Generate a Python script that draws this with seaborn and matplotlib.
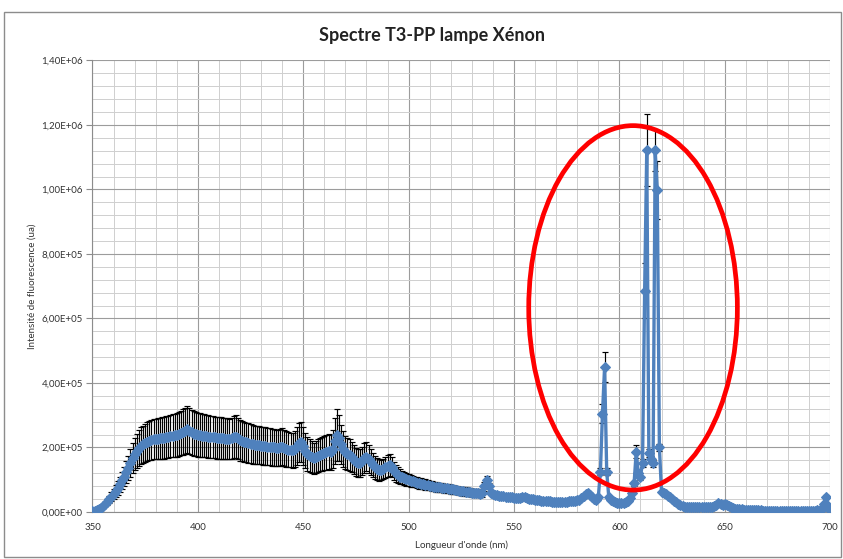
import numpy as np
import pandas as pd
import matplotlib
matplotlib.use("Agg")
import matplotlib.pyplot as plt
from matplotlib.patches import Ellipse, Rectangle
from matplotlib.ticker import FuncFormatter, MultipleLocator
import seaborn as sns

# Wavelength grid (nm), one reading per nanometre
wavelength_start = 350
wavelength_stop = 700

# Mean fluorescence intensity, in units of 1e5 (ua)
intensity_e5 = [
    0.02, 0.03, 0.05, 0.08, 0.12, 0.18, 0.25, 0.32, 0.40, 0.48,   # 350
    0.56, 0.65, 0.75, 0.86, 0.98, 1.10, 1.23, 1.37, 1.52, 1.68,   # 360
    1.80, 1.90, 1.98, 2.05, 2.10, 2.14, 2.18, 2.21, 2.23, 2.25,   # 370
    2.26, 2.27, 2.28, 2.29, 2.30, 2.32, 2.33, 2.35, 2.36, 2.38,   # 380
    2.40, 2.42, 2.45, 2.48, 2.52, 2.56, 2.52, 2.47, 2.43, 2.41,   # 390
    2.40, 2.39, 2.37, 2.36, 2.35, 2.34, 2.33, 2.32, 2.31, 2.30,   # 400
    2.30, 2.29, 2.28, 2.27, 2.27, 2.26, 2.28, 2.32, 2.34, 2.28,   # 410
    2.22, 2.20, 2.18, 2.16, 2.14, 2.12, 2.10, 2.09, 2.08, 2.07,   # 420
    2.06, 2.05, 2.04, 2.03, 2.02, 2.01, 2.00, 1.99, 1.98, 2.00,   # 430
    2.02, 1.98, 1.95, 1.93, 1.92, 1.91, 1.95, 2.05, 2.15, 2.18,   # 440
    2.05, 1.90, 1.80, 1.75, 1.70, 1.67, 1.70, 1.75, 1.78, 1.80,   # 450
    1.82, 1.85, 1.88, 1.85, 1.95, 2.20, 2.38, 2.30, 2.10, 1.95,   # 460
    1.85, 1.80, 1.77, 1.70, 1.62, 1.55, 1.52, 1.52, 1.58, 1.68,   # 470
    1.72, 1.65, 1.55, 1.45, 1.38, 1.33, 1.30, 1.30, 1.33, 1.38,   # 480
    1.44, 1.46, 1.38, 1.28, 1.20, 1.15, 1.10, 1.07, 1.04, 1.01,   # 490
    0.99, 0.97, 0.95, 0.93, 0.91, 0.89, 0.88, 0.86, 0.85, 0.83,   # 500
    0.82, 0.80, 0.79, 0.78, 0.77, 0.76, 0.75, 0.74, 0.73, 0.72,   # 510
    0.71, 0.70, 0.69, 0.68, 0.66, 0.65, 0.64, 0.63, 0.62, 0.61,   # 520
    0.60, 0.59, 0.58, 0.58, 0.57, 0.60, 0.80, 0.98, 0.80, 0.58,   # 530
    0.55, 0.53, 0.52, 0.51, 0.50, 0.49, 0.48, 0.47, 0.46, 0.45,   # 540
    0.44, 0.44, 0.43, 0.44, 0.45, 0.45, 0.43, 0.41, 0.40, 0.39,   # 550
    0.38, 0.37, 0.36, 0.35, 0.35, 0.34, 0.33, 0.33, 0.32, 0.32,   # 560
    0.31, 0.31, 0.31, 0.31, 0.32, 0.32, 0.33, 0.33, 0.34, 0.35,   # 570
    0.36, 0.38, 0.42, 0.50, 0.56, 0.58, 0.52, 0.45, 0.40, 0.38,   # 580
    0.45, 1.25, 3.05, 4.50, 1.25, 0.45, 0.38, 0.33, 0.30, 0.28,   # 590
    0.27, 0.27, 0.28, 0.30, 0.33, 0.43, 0.60, 0.89, 1.87, 1.20,   # 600
    1.10, 1.51, 6.86, 11.22, 1.82, 1.65, 1.51, 11.22, 9.98, 2.00, # 610
    0.63, 0.60, 0.55, 0.50, 0.45, 0.40, 0.35, 0.30, 0.26, 0.22,   # 620
    0.19, 0.17, 0.15, 0.15, 0.14, 0.14, 0.14, 0.14, 0.14, 0.14,   # 630
    0.14, 0.14, 0.14, 0.15, 0.16, 0.18, 0.22, 0.27, 0.25, 0.22,   # 640
    0.24, 0.22, 0.18, 0.15, 0.12, 0.10, 0.09, 0.08, 0.08, 0.07,   # 650
    0.07, 0.06, 0.06, 0.05, 0.05, 0.05, 0.05, 0.05, 0.04, 0.04,   # 660
    0.04, 0.04, 0.04, 0.04, 0.04, 0.04, 0.04, 0.04, 0.04, 0.04,   # 670
    0.04, 0.04, 0.04, 0.04, 0.04, 0.04, 0.04, 0.04, 0.04, 0.04,   # 680
    0.04, 0.04, 0.04, 0.04, 0.05, 0.06, 0.08, 0.25, 0.47, 0.18,   # 690
    0.05,                                                         # 700
]

# Standard deviation of the replicates, in units of 1e5 (ua)
stdev_e5 = [
    0.00, 0.01, 0.01, 0.02, 0.03, 0.05, 0.07, 0.09, 0.11, 0.13,   # 350
    0.15, 0.18, 0.21, 0.24, 0.27, 0.30, 0.34, 0.38, 0.42, 0.46,   # 360
    0.50, 0.53, 0.55, 0.57, 0.58, 0.59, 0.60, 0.61, 0.62, 0.62,   # 370
    0.63, 0.63, 0.64, 0.64, 0.65, 0.65, 0.66, 0.66, 0.67, 0.67,   # 380
    0.68, 0.68, 0.69, 0.70, 0.71, 0.72, 0.71, 0.70, 0.69, 0.68,   # 390
    0.68, 0.67, 0.67, 0.67, 0.66, 0.66, 0.66, 0.65, 0.65, 0.65,   # 400
    0.65, 0.64, 0.64, 0.64, 0.63, 0.63, 0.64, 0.65, 0.66, 0.64,   # 410
    0.63, 0.62, 0.62, 0.61, 0.61, 0.60, 0.60, 0.59, 0.59, 0.59,   # 420
    0.58, 0.58, 0.58, 0.57, 0.57, 0.57, 0.56, 0.56, 0.56, 0.57,   # 430
    0.57, 0.56, 0.55, 0.55, 0.54, 0.54, 0.56, 0.58, 0.60, 0.62,   # 440
    0.60, 0.54, 0.52, 0.50, 0.49, 0.48, 0.49, 0.50, 0.51, 0.52,   # 450
    0.53, 0.54, 0.55, 0.55, 0.60, 0.70, 0.80, 0.72, 0.60, 0.55,   # 460
    0.52, 0.50, 0.49, 0.47, 0.45, 0.43, 0.42, 0.42, 0.44, 0.46,   # 470
    0.46, 0.44, 0.41, 0.38, 0.36, 0.34, 0.33, 0.32, 0.32, 0.33,   # 480
    0.34, 0.34, 0.31, 0.28, 0.26, 0.24, 0.22, 0.21, 0.20, 0.19,   # 490
    0.19, 0.18, 0.18, 0.17, 0.17, 0.17, 0.16, 0.16, 0.16, 0.15,   # 500
    0.15, 0.15, 0.15, 0.15, 0.14, 0.14, 0.14, 0.14, 0.14, 0.14,   # 510
    0.14, 0.14, 0.13, 0.13, 0.13, 0.13, 0.13, 0.13, 0.13, 0.12,   # 520
    0.12, 0.12, 0.12, 0.12, 0.12, 0.12, 0.14, 0.15, 0.10, 0.06,   # 530
    0.03, 0.02, 0.02, 0.02, 0.02, 0.02, 0.02, 0.02, 0.02, 0.02,   # 540
    0.02, 0.02, 0.02, 0.02, 0.02, 0.02, 0.02, 0.02, 0.02, 0.02,   # 550
    0.02, 0.02, 0.02, 0.02, 0.02, 0.02, 0.02, 0.02, 0.02, 0.02,   # 560
    0.02, 0.02, 0.02, 0.02, 0.02, 0.02, 0.02, 0.02, 0.02, 0.02,   # 570
    0.02, 0.02, 0.02, 0.03, 0.04, 0.04, 0.03, 0.02, 0.02, 0.02,   # 580
    0.02, 0.10, 0.30, 0.47, 0.10, 0.03, 0.02, 0.02, 0.02, 0.02,   # 590
    0.02, 0.02, 0.02, 0.02, 0.02, 0.03, 0.05, 0.08, 0.20, 0.10,   # 600
    0.10, 0.12, 0.85, 1.12, 0.12, 0.10, 0.10, 0.65, 0.90, 0.10,   # 610
    0.04, 0.03, 0.03, 0.02, 0.02, 0.02, 0.02, 0.02, 0.02, 0.02,   # 620
    0.02, 0.02, 0.02, 0.02, 0.02, 0.02, 0.02, 0.02, 0.02, 0.02,   # 630
    0.02, 0.02, 0.02, 0.02, 0.02, 0.02, 0.02, 0.02, 0.02, 0.02,   # 640
    0.02, 0.02, 0.02, 0.02, 0.02, 0.02, 0.02, 0.02, 0.02, 0.02,   # 650
    0.02, 0.02, 0.02, 0.02, 0.02, 0.02, 0.02, 0.02, 0.02, 0.02,   # 660
    0.02, 0.02, 0.02, 0.02, 0.02, 0.02, 0.02, 0.02, 0.02, 0.02,   # 670
    0.02, 0.02, 0.02, 0.02, 0.02, 0.02, 0.02, 0.02, 0.02, 0.02,   # 680
    0.02, 0.02, 0.02, 0.02, 0.02, 0.02, 0.02, 0.04, 0.06, 0.03,   # 690
    0.02,                                                         # 700
]

x_ticks = [350, 400, 450, 500, 550, 600, 650, 700]
y_ticks = [0.0, 2.0e5, 4.0e5, 6.0e5, 8.0e5, 1.0e6, 1.2e6, 1.4e6]

title = "Spectre T3-PP lampe Xénon"
x_label = "Longueur d'onde (nm)"
y_label = "Intensité de fluorescence (ua)"

wavelength = np.arange(wavelength_start, wavelength_stop + 1)
assert len(intensity_e5) == len(wavelength) == len(stdev_e5)
df = pd.DataFrame({
    "wavelength": wavelength,
    "intensity": np.array(intensity_e5) * 1e5,
    "stdev": np.array(stdev_e5) * 1e5,
})

sns.set_style("white")
plt.rcParams["font.family"] = ["Lato", "DejaVu Sans"]

BLUE = "#4F81BD"

fig = plt.figure(figsize=(8.43, 5.59), dpi=100)
ax = fig.add_axes([0.1097, 0.0841, 0.8750, 0.8077])

# Chart-area frame
fig.patches.append(Rectangle((4 / 843, 2 / 559), 837 / 843, 545 / 559,
                             transform=fig.transFigure, fill=False,
                             edgecolor="#8c8c8c", linewidth=1.0))

# Error bars behind the series
ax.errorbar(df["wavelength"], df["intensity"], yerr=df["stdev"], fmt="none",
            ecolor="black", elinewidth=0.85, capsize=2.0, capthick=0.85, zorder=2)

sns.lineplot(data=df, x="wavelength", y="intensity", ax=ax, color=BLUE,
             linewidth=2.4, marker="D", markersize=5.0, markeredgecolor=BLUE,
             markeredgewidth=0.8, zorder=3, legend=False)

# Highlight around the emission lines
ax.add_patch(Ellipse((606.5, 6.33e5), width=99, height=11.3e5, angle=0,
                     transform=ax.transData, fill=False, edgecolor="#FF0000",
                     linewidth=3.4, zorder=5, clip_on=False))

ax.set_xlim(350, 700)
ax.set_ylim(0, 1.4e6)
ax.set_xticks(x_ticks)
ax.set_yticks(y_ticks)
ax.xaxis.set_minor_locator(MultipleLocator(10))
ax.yaxis.set_minor_locator(MultipleLocator(4e4))
ax.yaxis.set_major_formatter(FuncFormatter(lambda v, p: f"{v:.2E}".replace(".", ",")))
ax.xaxis.set_major_formatter(FuncFormatter(lambda v, p: f"{int(v)}"))

ax.grid(which="major", color="#9c9c9c", linewidth=0.8, zorder=0)
ax.grid(which="minor", color="#cfcfcf", linewidth=0.7, zorder=0)
ax.set_axisbelow(True)

for side in ["top", "right"]:
    ax.spines[side].set_visible(False)
for side in ["left", "bottom"]:
    ax.spines[side].set_color("#8c8c8c")
    ax.spines[side].set_linewidth(0.8)

ax.tick_params(axis="y", which="major", length=4, width=0.8, color="#8c8c8c",
               labelsize=7, labelcolor="#333333", pad=3, left=True)
ax.tick_params(axis="x", which="major", length=0, labelsize=7,
               labelcolor="#333333", pad=8)
ax.tick_params(which="minor", length=0)

ax.set_xlabel(x_label, fontsize=7, color="#333333", labelpad=6)
ax.set_ylabel(y_label, fontsize=7, color="#333333", labelpad=3)

fig.text(432 / 843, 1 - 36 / 559, title, ha="center", va="center",
         fontsize=13, fontweight="bold", color="#222222")

fig.savefig("out.png", dpi=100)
